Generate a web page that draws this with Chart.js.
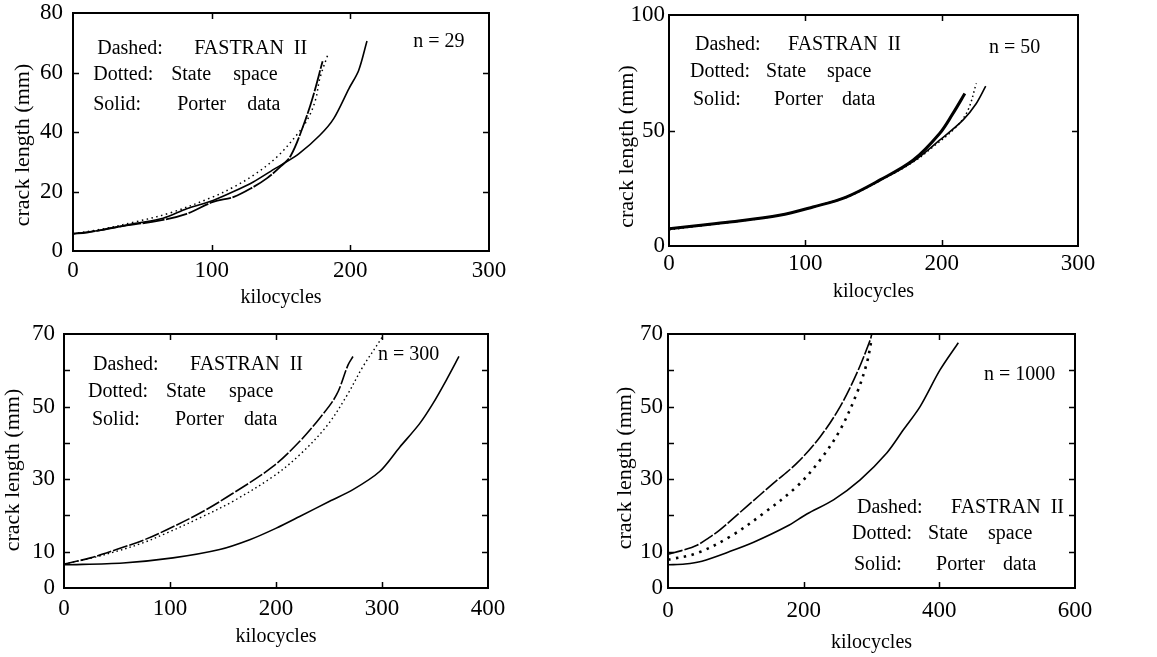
<!DOCTYPE html>
<html><head><meta charset="utf-8">
<script src="https://cdn.jsdelivr.net/npm/chart.js@4/dist/chart.umd.min.js"></script>
<style>
html,body{margin:0;padding:0;background:#fff;}
#wrap{position:relative;width:1157px;height:657px;overflow:hidden;background:#fff;}
canvas{position:absolute;left:0;top:0;}
</style></head><body><div id="wrap">
<canvas id="c1" width="1157" height="657"></canvas>
<canvas id="c2" width="1157" height="657"></canvas>
<canvas id="c3" width="1157" height="657"></canvas>
<canvas id="c4" width="1157" height="657"></canvas>
</div>
<script>
// ---------- Panel 1 (n = 29) ----------
const p1FastranX = [0, 10, 32, 63, 82, 101, 116, 130, 140, 150, 157, 166, 173, 180];
const p1FastranY = [5.8, 6.2, 8.1, 10.3, 12.5, 16.5, 18.2, 21.5, 24.5, 28.5, 32, 42, 51.8, 63.8];
const p1StateX = [0, 20, 45, 70, 101, 115, 130, 147, 163, 170, 175, 178, 184];
const p1StateY = [5.8, 7.3, 9.8, 12.8, 18.2, 21.3, 25.4, 31.6, 40, 45, 51, 58, 66.3];
const p1PorterX = [0, 20, 44, 65, 82, 101, 115, 130, 145, 152, 163, 178, 188, 199, 206, 212];
const p1PorterY = [5.8, 7, 9.2, 11, 14.2, 17, 19.8, 23.2, 27.5, 29.4, 32.7, 38.9, 44.5, 54.6, 60.7, 70.6];
const p1XTicks = [0, 100, 200, 300];
const p1YTicks = [0, 20, 40, 60, 80];
const p1YLabels = [0, 20, 40, 60, 80];

// ---------- Panel 2 (n = 50) ----------
const p2FastranX = [0, 20, 44.5, 81, 105.6, 130, 154.5, 179, 198.5, 208.3, 217];
const p2FastranY = [7.5, 8.8, 10.4, 13.3, 16.9, 21.2, 28.5, 37.1, 48.7, 57.4, 66];
const p2StateX = [0, 20, 44.5, 81, 105.6, 130, 154.5, 179, 193.6, 210.8, 219.3, 225.4];
const p2StateY = [7, 8.5, 10.2, 13.2, 16.8, 21, 28.2, 36.3, 42.9, 51.6, 58.8, 70.4];
const p2PorterX = [0, 20, 44.5, 81, 105.6, 130, 154.5, 179, 198.5, 215.6, 225.4, 232.3];
const p2PorterY = [7.5, 8.7, 10.4, 13.3, 16.9, 21.2, 28.4, 36.5, 45.8, 54.5, 61.7, 69.2];
const p2XTicks = [0, 100, 200, 300];
const p2YTicks = [0, 50, 100];
const p2YLabels = [0, 50, 100];

// ---------- Panel 3 (n = 300) ----------
const p3FastranX = [0, 25, 49.4, 75, 96.5, 128, 159.4, 197.2, 222.3, 241.2, 257, 268, 272.6];
const p3FastranY = [6.6, 8.3, 10.6, 13.2, 16, 20.6, 26.1, 33.5, 40.4, 46.8, 53.2, 61.5, 63.8];
const p3StateX = [0, 25, 49.4, 75, 96.5, 128, 159.4, 197.2, 222.3, 247.5, 266.4, 282, 299.4, 300.3];
const p3StateY = [6.6, 8.2, 10.1, 12.5, 15.1, 19.3, 23.9, 30.7, 36.7, 44.5, 52.8, 61, 68.8, 69.7];
const p3PorterX = [0, 55.7, 102.8, 146.9, 175.2, 200.3, 222.3, 250.6, 272.6, 297.8, 316.7, 335.5, 348, 360.7, 372.6];
const p3PorterY = [6.4, 6.9, 8.3, 10.6, 13.3, 16.5, 19.7, 23.9, 27.1, 32.1, 38.8, 45.3, 50.8, 57.3, 63.8];
const p3XTicks = [0, 100, 200, 300, 400];
const p3YTicks = [0, 10, 20, 30, 40, 50, 60, 70];
const p3YLabels = [0, 10, 30, 50, 70];

// ---------- Panel 4 (n = 1000) ----------
const p4FastranX = [0, 20, 42.7, 60, 77, 116.3, 155.6, 190, 224.4, 253.8, 278.4, 298, 300.4];
const p4FastranY = [9.3, 10.3, 11.8, 13.8, 16.1, 22.5, 28.9, 34.4, 41.7, 50, 59.2, 68.3, 70];
const p4StateX = [0, 42.7, 91.8, 141, 190, 224.4, 253.8, 278.4, 293, 300.4];
const p4StateY = [7.8, 9.6, 14.2, 20.6, 28, 35.3, 43.6, 53.7, 61.9, 68.8];
const p4PorterX = [0, 25, 50, 91.8, 126.2, 175.3, 204.7, 244, 283.3, 322.5, 347, 371.6, 401, 428];
const p4PorterY = [6.4, 6.6, 7.4, 10.1, 12.6, 17, 20.4, 24.3, 29.8, 37.2, 43.6, 50, 60.1, 67.6];
const p4XTicks = [0, 200, 400, 600];
const p4YTicks = [0, 10, 20, 30, 40, 50, 60, 70];
const p4YLabels = [0, 10, 30, 50, 70];

// ---------- Annotation texts ----------
const legendWords = ["Dashed:", "FASTRAN  II", "Dotted:", "State", "space", "Solid:", "Porter", "data"];
const p1Note = "n = 29", p2Note = "n = 50", p3Note = "n = 300", p4Note = "n = 1000";
const yTitle = "crack length (mm)";
const xTitle = "kilocycles";
// anchor positions (data units) for legendWords + note
const p1TextX = [17.5, 87.4, 14.6, 70.8, 115.5, 14.6, 75.1, 125.6, 245.4];
const p1TextY = [68.1, 68.1, 59.1, 59.1, 59.1, 49.3, 49.3, 49.3, 70.2];
const p2TextX = [19.1, 87.3, 15.4, 71.2, 115.9, 17.6, 77, 126.9, 234.7];
const p2TextY = [87, 87, 75.3, 75.3, 75.3, 63.2, 63.2, 63.2, 85.7];
const p3TextX = [27.4, 118.9, 22.6, 96.2, 155.7, 26.4, 104.7, 169.8, 296.2];
const p3TextY = [61.5, 61.5, 54, 54, 54, 46.3, 46.3, 46.3, 64.2];
const p4TextX = [278.6, 417.2, 271.3, 383.3, 471.8, 274.2, 395.1, 493.9, 465.9];
const p4TextY = [22.1, 22.1, 14.9, 14.9, 14.9, 6.4, 6.4, 6.4, 58.7];

const SERIF = '"Liberation Serif", "Times New Roman", serif';

const framePlugin = {
  id: 'frame',
  afterDraw(chart, args, opts) {
    const ctx = chart.ctx, a = chart.chartArea;
    const xs = chart.scales.x, ys = chart.scales.y;
    ctx.save();
    ctx.strokeStyle = '#000';
    ctx.lineWidth = 2;
    ctx.strokeRect(a.left, a.top, a.right - a.left, a.bottom - a.top);
    ctx.lineWidth = 1.5;
    const L = 6;
    ctx.beginPath();
    opts.xTicks.forEach(v => {
      if (v === xs.min || v === xs.max) return;
      const p = Math.round(xs.getPixelForValue(v)) + 0.5;
      ctx.moveTo(p, a.bottom); ctx.lineTo(p, a.bottom - L);
      ctx.moveTo(p, a.top); ctx.lineTo(p, a.top + L);
    });
    opts.yTicks.forEach(v => {
      if (v === ys.min || v === ys.max) return;
      const p = Math.round(ys.getPixelForValue(v)) + 0.5;
      ctx.moveTo(a.left, p); ctx.lineTo(a.left + L, p);
      ctx.moveTo(a.right, p); ctx.lineTo(a.right - L, p);
    });
    ctx.stroke();
    // annotations
    ctx.font = '20px ' + SERIF;
    ctx.fillStyle = '#000';
    ctx.textBaseline = 'middle';
    ctx.textAlign = 'left';
    opts.texts.forEach((t, i) => {
      ctx.fillText(t, xs.getPixelForValue(opts.tx[i]), ys.getPixelForValue(opts.ty[i]));
    });
    // y axis title (rotated), offset relative to the plot area
    ctx.font = '22px ' + SERIF;
    ctx.textAlign = 'center';
    ctx.translate(a.left - opts.yTitleDx, (a.top + a.bottom) / 2 + opts.yTitleDy);
    ctx.rotate(-Math.PI / 2);
    ctx.fillText(yTitle, 0, 0);
    ctx.restore();
  }
};

function pts(xs, ys) { return xs.map((x, i) => ({x: x, y: ys[i]})); }

function makePanel(id, c) {
  const datasets = [
    {data: pts(c.fx, c.fy), borderColor: '#000', borderWidth: c.fw, borderDash: c.fdash, showLine: true, pointRadius: 0, tension: 0.35},
    {data: pts(c.sx, c.sy), borderColor: '#000', borderWidth: c.sw, borderDash: c.sdash, showLine: true, pointRadius: 0, tension: 0.35},
    {data: pts(c.px, c.py), borderColor: '#000', borderWidth: 1.6, showLine: true, pointRadius: 0, tension: 0.3}
  ];
  new Chart(document.getElementById(id), {
    type: 'scatter',
    data: {datasets},
    options: {
      responsive: false, animation: false, events: [],
      layout: {padding: {left: c.padL, top: c.T, right: 1157 - c.R, bottom: 657 - c.B - c.Hx}},
      plugins: {
        legend: {display: false}, tooltip: {enabled: false},
        frame: {xTicks: c.xTicks, yTicks: c.yTicks, texts: legendWords.concat([c.note]), tx: c.tx, ty: c.ty,
                yTitleDx: c.ytDx, yTitleDy: c.ytDy}
      },
      scales: {
        x: {
          type: 'linear', position: 'bottom', min: c.xTicks[0], max: c.xTicks[c.xTicks.length - 1],
          afterBuildTicks: s => { s.ticks = c.xTicks.map(v => ({value: v})); },
          afterFit: s => { s.height = c.Hx; s.paddingLeft = 0; s.paddingRight = 0; s.paddingTop = 0; s.paddingBottom = 0; },
          grid: {display: false, drawTicks: false, tickLength: 0},
          border: {display: false},
          ticks: {font: {family: SERIF, size: 23}, color: '#000', padding: c.xPad, maxRotation: 0, minRotation: 0, autoSkip: false},
          title: {display: true, text: xTitle, font: {family: SERIF, size: 20}, color: '#000', padding: 0}
        },
        y: {
          type: 'linear', position: 'left', min: c.yTicks[0], max: c.yTicks[c.yTicks.length - 1],
          afterBuildTicks: s => { s.ticks = c.yTicks.map(v => ({value: v})); },
          afterFit: s => { s.width = c.W; s.paddingTop = 0; s.paddingBottom = 0; s.paddingLeft = 0; s.paddingRight = 0; },
          grid: {display: false, drawTicks: false, tickLength: 0},
          border: {display: false},
          ticks: {font: {family: SERIF, size: 23}, color: '#000', padding: c.yPad, autoSkip: false,
                   callback: v => c.yLabels.includes(v) ? String(v) : ''},
          title: {display: false}
        }
      }
    },
    plugins: [framePlugin]
  });
}

makePanel('c1', {fx: p1FastranX, fy: p1FastranY, sx: p1StateX, sy: p1StateY, px: p1PorterX, py: p1PorterY,
  fw: 1.8, fdash: [22, 1.5], sw: 1.5, sdash: [1.5, 3.5],
  xTicks: p1XTicks, yTicks: p1YTicks, yLabels: p1YLabels, note: p1Note, tx: p1TextX, ty: p1TextY,
  padL: 11, W: 62, T: 13, R: 489, B: 251, Hx: 59, xPad: 6, yPad: 10, ytDx: 50, ytDy: 13});
makePanel('c2', {fx: p2FastranX, fy: p2FastranY, sx: p2StateX, sy: p2StateY, px: p2PorterX, py: p2PorterY,
  fw: 3, fdash: [], sw: 1.5, sdash: [1.5, 3],
  xTicks: p2XTicks, yTicks: p2YTicks, yLabels: p2YLabels, note: p2Note, tx: p2TextX, ty: p2TextY,
  padL: 615, W: 54, T: 15, R: 1078, B: 246, Hx: 58, xPad: 4, yPad: 4, ytDx: 42, ytDy: 16});
makePanel('c3', {fx: p3FastranX, fy: p3FastranY, sx: p3StateX, sy: p3StateY, px: p3PorterX, py: p3PorterY,
  fw: 1.6, fdash: [15, 2], sw: 1.4, sdash: [1.5, 3],
  xTicks: p3XTicks, yTicks: p3YTicks, yLabels: p3YLabels, note: p3Note, tx: p3TextX, ty: p3TextY,
  padL: 1, W: 63, T: 334, R: 488, B: 588, Hx: 61, xPad: 7, yPad: 9, ytDx: 51, ytDy: 9});
makePanel('c4', {fx: p4FastranX, fy: p4FastranY, sx: p4StateX, sy: p4StateY, px: p4PorterX, py: p4PorterY,
  fw: 1.6, fdash: [15, 2], sw: 2.6, sdash: [2.5, 5.5],
  xTicks: p4XTicks, yTicks: p4YTicks, yLabels: p4YLabels, note: p4Note, tx: p4TextX, ty: p4TextY,
  padL: 613, W: 55, T: 334, R: 1075, B: 588, Hx: 67, xPad: 9, yPad: 5, ytDx: 43, ytDy: 7});
</script>
</body></html>
